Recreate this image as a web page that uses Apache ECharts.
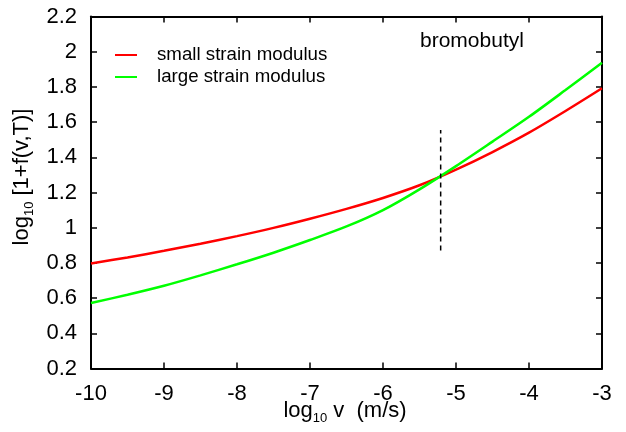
<!DOCTYPE html>
<html>
<head>
<meta charset="utf-8">
<script src="https://cdn.jsdelivr.net/npm/echarts@6/dist/echarts.min.js"></script>
<style>html,body{margin:0;padding:0;background:#fff;}#c{width:626px;height:432px;}</style>
</head>
<body>
<div id="c"></div>
<script>
var xValues = [-10, -9.5, -9, -8.5, -8, -7.5, -7, -6.5, -6, -5.5, -5, -4.5, -4, -3.5, -3];
var smallStrain = [0.797, 0.831, 0.869, 0.909, 0.952, 0.999, 1.051, 1.107, 1.169, 1.241, 1.330, 1.430, 1.540, 1.663, 1.792];
var largeStrain = [0.572, 0.619, 0.670, 0.729, 0.792, 0.858, 0.930, 1.007, 1.100, 1.218, 1.350, 1.489, 1.630, 1.782, 1.937];
var markerX = [-5.21, -5.21];
var markerY = [0.87, 1.555];
var seriesNames = ['small strain modulus', 'large strain modulus'];
var xTicks = {min: -10, max: -3, interval: 1};
var yTicks = {min: 0.2, max: 2.2, interval: 0.2};

function pairs(xs, ys) { return xs.map(function (x, i) { return [x, ys[i]]; }); }

var font = 'Liberation Sans, Arial, sans-serif';
var chart = echarts.init(document.getElementById('c'), null, {renderer: 'canvas'});

function xAx(pos, show) {
  return {
    type: 'value', position: pos, min: xTicks.min, max: xTicks.max, interval: xTicks.interval,
    axisLine: {show: true, onZero: false, lineStyle: {color: '#000', width: 2}},
    axisTick: {show: true, inside: true, length: 6, lineStyle: {color: '#000', width: 1.5}},
    axisLabel: {show: show, margin: 14, color: '#000', fontSize: 22, fontFamily: font},
    splitLine: {show: false}
  };
}
function yAx(pos, show) {
  return {
    type: 'value', position: pos, min: yTicks.min, max: yTicks.max, interval: yTicks.interval,
    axisLine: {show: true, onZero: false, lineStyle: {color: '#000', width: 2}},
    axisTick: {show: true, inside: true, length: 6, lineStyle: {color: '#000', width: 1.5}},
    axisLabel: {show: show, margin: 14, color: '#000', fontSize: 22, fontFamily: font,
      formatter: function (v) { return String(parseFloat(v.toFixed(1))); }},
    splitLine: {show: false}
  };
}

chart.setOption({
  animation: false,
  backgroundColor: '#fff',
  grid: {left: 91, right: 24, top: 16.5, bottom: 63.5, containLabel: false},
  xAxis: [xAx('bottom', true), xAx('top', false)],
  yAxis: [yAx('left', true), yAx('right', false)],
  legend: {
    orient: 'vertical', left: 115, top: 45.5, padding: 0, itemWidth: 22, itemHeight: 2, itemGap: 3,
    icon: 'rect', data: seriesNames,
    textStyle: {fontSize: 18.7, fontFamily: font, color: '#000', padding: [0, 0, 0, 15], lineHeight: 18.7}
  },
  series: [
    {name: seriesNames[0], type: 'line', data: pairs(xValues, smallStrain), smooth: 0.3,
     showSymbol: false, symbol: 'none', lineStyle: {color: '#ff0000', width: 2.5}, itemStyle: {color: '#ff0000'}},
    {name: seriesNames[1], type: 'line', data: pairs(xValues, largeStrain), smooth: 0.3,
     showSymbol: false, symbol: 'none', lineStyle: {color: '#00ff00', width: 2.5}, itemStyle: {color: '#00ff00'}},
    {name: 'marker', type: 'line', data: pairs(markerX, markerY), showSymbol: false, symbol: 'none',
     lineStyle: {color: '#000', width: 1.5, type: [5, 4]}}
  ],
  graphic: [
    {type: 'text', left: 420, top: 31, style: {text: 'bromobutyl', fontSize: 21, fontFamily: font, fill: '#000'}},
    {type: 'text', x: 22, y: 177, rotation: Math.PI / 2,
     style: {text: '{a|log}{s|10}{a| [1+f(v,T)]}', align: 'center', verticalAlign: 'middle', fill: '#000',
       rich: {a: {fontSize: 22, fontFamily: font, lineHeight: 28, verticalAlign: 'middle', fill: '#000'},
              s: {fontSize: 13, fontFamily: font, lineHeight: 13, verticalAlign: 'bottom', fill: '#000'}}}},
    {type: 'text', x: 345, y: 411,
     style: {text: '{a|log}{s|10}{a| v  (m/s)}', align: 'center', verticalAlign: 'middle', fill: '#000',
       rich: {a: {fontSize: 22, fontFamily: font, lineHeight: 28, verticalAlign: 'middle', fill: '#000'},
              s: {fontSize: 13, fontFamily: font, lineHeight: 13, verticalAlign: 'bottom', fill: '#000'}}}}
  ]
});
</script>
</body>
</html>
